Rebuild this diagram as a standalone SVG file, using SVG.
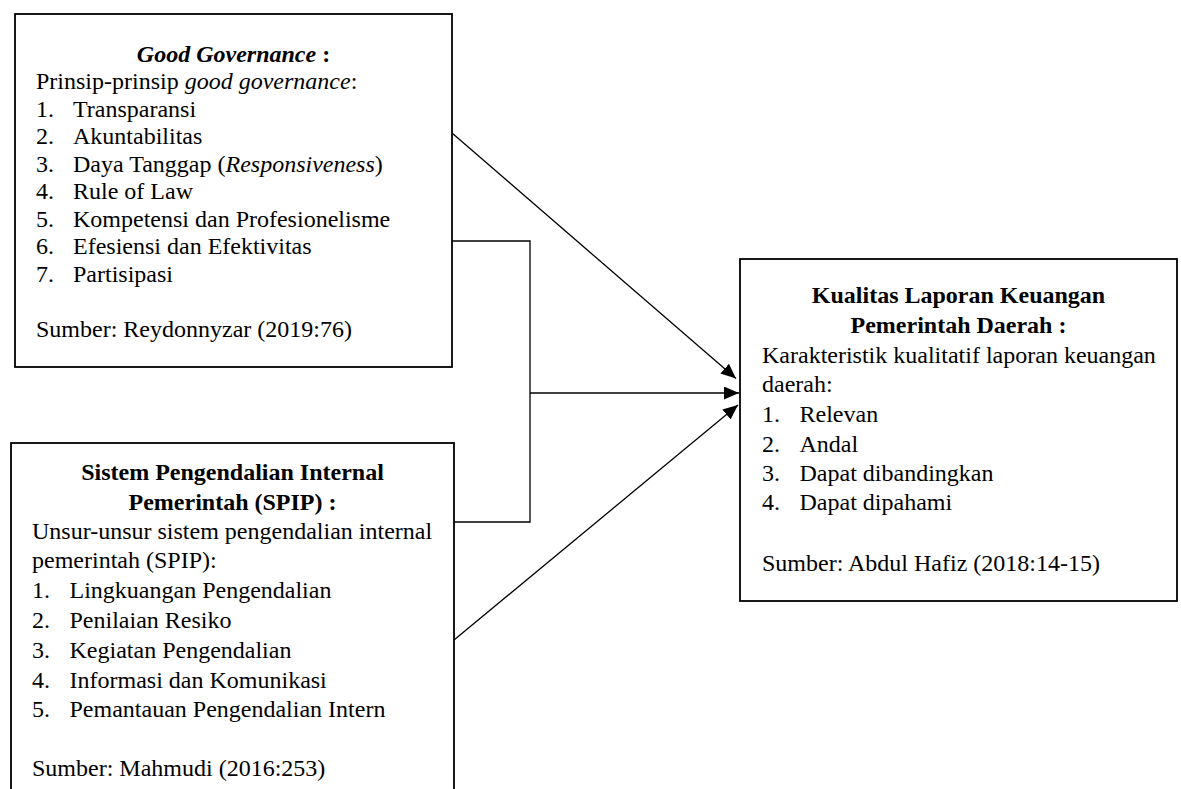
<svg xmlns="http://www.w3.org/2000/svg" width="1181" height="789" viewBox="0 0 1181 789">
<style>
.box{fill:#fff;stroke:#000;stroke-width:1.8}
.t{font-family:"Liberation Serif","Times New Roman",serif;font-size:24px;fill:#000}
.b{font-weight:bold}
.i{font-style:italic}
.c{text-anchor:middle}
.conn{fill:none;stroke:#000;stroke-width:1.3}
</style>
<defs>
<marker id="ah" markerUnits="userSpaceOnUse" markerWidth="16" markerHeight="14" refX="15" refY="6.5" orient="auto">
<path d="M0,0 L15,6.5 L0,13 z" fill="#000"/>
</marker>
</defs>
<rect width="1181" height="789" fill="#fff"/>
<g id="connectors">
<line class="conn" x1="452" y1="133" x2="736" y2="378.5" marker-end="url(#ah)"/>
<path class="conn" d="M452,241 H530 V522 H454"/>
<line class="conn" x1="530" y1="393" x2="739" y2="393" marker-end="url(#ah)"/>
<line class="conn" x1="454" y1="640" x2="738" y2="405" marker-end="url(#ah)"/>
</g>
<g id="good-governance">
<rect class="box" x="15" y="14" width="437" height="353"/>
<text class="t c b" x="233.5" y="61.7"><tspan class="i">Good Governance</tspan> :</text>
<text class="t" x="36" y="89.3">Prinsip-prinsip <tspan class="i">good governance</tspan>:</text>
<text class="t" x="36" y="116.5">1.</text><text class="t" x="73" y="116.5">Transparansi</text>
<text class="t" x="36" y="144">2.</text><text class="t" x="73" y="144">Akuntabilitas</text>
<text class="t" x="36" y="171.7">3.</text><text class="t" x="73" y="171.7">Daya Tanggap (<tspan class="i">Responsiveness</tspan>)</text>
<text class="t" x="36" y="199.2">4.</text><text class="t" x="73" y="199.2">Rule of Law</text>
<text class="t" x="36" y="226.8">5.</text><text class="t" x="73" y="226.8">Kompetensi dan Profesionelisme</text>
<text class="t" x="36" y="254.4">6.</text><text class="t" x="73" y="254.4">Efesiensi dan Efektivitas</text>
<text class="t" x="36" y="282">7.</text><text class="t" x="73" y="282">Partisipasi</text>
<text class="t" x="36" y="337.3">Sumber: Reydonnyzar (2019:76)</text>
</g>
<g id="spip">
<rect class="box" x="11" y="443" width="443" height="360"/>
<text class="t c b" x="232.5" y="480">Sistem Pengendalian Internal</text>
<text class="t c b" x="232.5" y="509.5">Pemerintah (SPIP) :</text>
<text class="t" x="32" y="538.5">Unsur-unsur sistem pengendalian internal</text>
<text class="t" x="32" y="568">pemerintah (SPIP):</text>
<text class="t" x="32" y="598">1.</text><text class="t" x="69.5" y="598">Lingkuangan Pengendalian</text>
<text class="t" x="32" y="628">2.</text><text class="t" x="69.5" y="628">Penilaian Resiko</text>
<text class="t" x="32" y="658">3.</text><text class="t" x="69.5" y="658">Kegiatan Pengendalian</text>
<text class="t" x="32" y="687.5">4.</text><text class="t" x="69.5" y="687.5">Informasi dan Komunikasi</text>
<text class="t" x="32" y="717">5.</text><text class="t" x="69.5" y="717">Pemantauan Pengendalian Intern</text>
<text class="t" x="32" y="776">Sumber: Mahmudi (2016:253)</text>
</g>
<g id="kualitas">
<rect class="box" x="740" y="259" width="437" height="342"/>
<text class="t c b" x="958.5" y="303.3">Kualitas Laporan Keuangan</text>
<text class="t c b" x="958.5" y="332.7">Pemerintah Daerah :</text>
<text class="t" x="762" y="362.5">Karakteristik kualitatif laporan keuangan</text>
<text class="t" x="762" y="391.7">daerah:</text>
<text class="t" x="762" y="421.5">1.</text><text class="t" x="799.5" y="421.5">Relevan</text>
<text class="t" x="762" y="451.5">2.</text><text class="t" x="799.5" y="451.5">Andal</text>
<text class="t" x="762" y="481">3.</text><text class="t" x="799.5" y="481">Dapat dibandingkan</text>
<text class="t" x="762" y="510">4.</text><text class="t" x="799.5" y="510">Dapat dipahami</text>
<text class="t" x="762" y="570.5">Sumber: Abdul Hafiz (2018:14-15)</text>
</g>
</svg>
